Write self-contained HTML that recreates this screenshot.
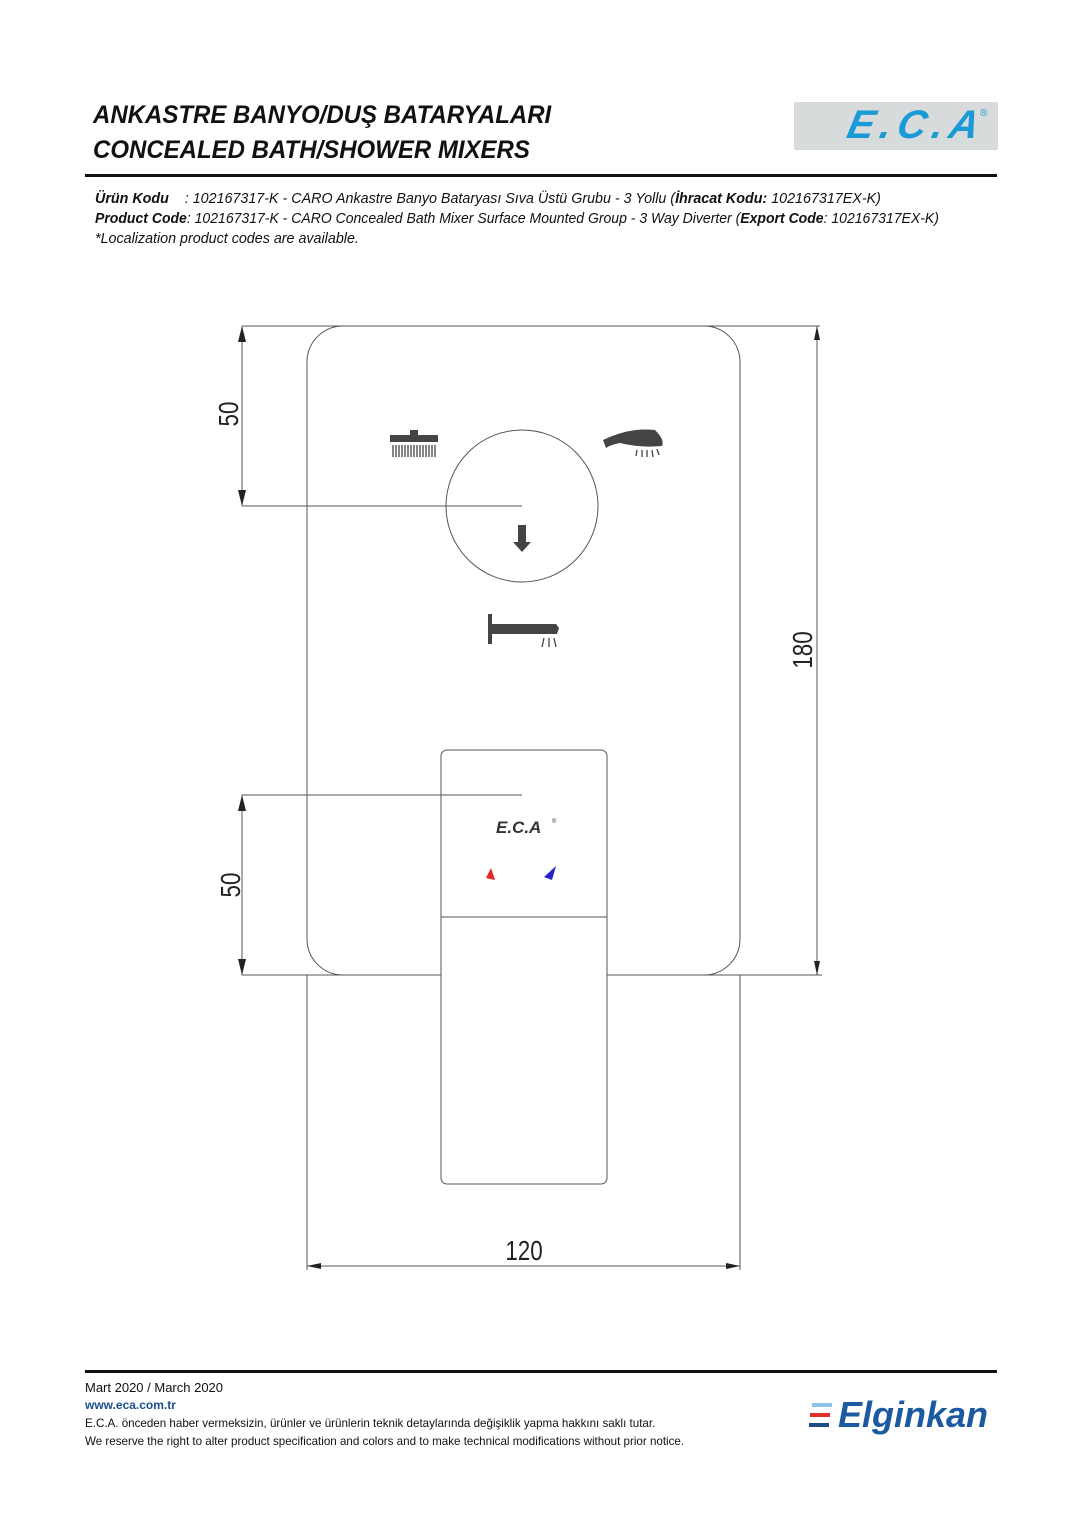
<!DOCTYPE html>
<html><head><meta charset="utf-8"><style>
body{margin:0;background:#fff;}
.wrap{position:relative;width:1080px;height:1527px;overflow:hidden;font-family:"Liberation Sans",sans-serif;color:#111;}
.t{position:absolute;white-space:nowrap;}
</style></head><body><div class="wrap">
<div class="t" style="left:93px;top:101px;font-size:25px;font-weight:bold;font-style:italic;transform:scaleX(0.96);transform-origin:left;">ANKASTRE BANYO/DUŞ BATARYALARI</div>
<div class="t" style="left:93px;top:136px;font-size:25px;font-weight:bold;font-style:italic;transform:scaleX(0.96);transform-origin:left;">CONCEALED BATH/SHOWER MIXERS</div>
<div style="position:absolute;left:794px;top:102px;width:204px;height:48px;background:#d8dbdc;"></div>
<div class="t" style="left:848px;top:103px;font-size:40px;font-weight:bold;font-style:italic;color:#1a9ad6;letter-spacing:6px;transform:skewX(-12deg);">E.C.A</div>
<div class="t" style="left:980px;top:108px;font-size:10px;color:#1a9ad6;">®</div>
<div style="position:absolute;left:85px;top:174px;width:912px;height:3px;background:#111;"></div>
<div class="t" style="left:95px;top:191px;font-size:14.3px;font-style:italic;"><b>Ürün Kodu</b>&nbsp;&nbsp;&nbsp;&nbsp;: 102167317-K - CARO Ankastre Banyo Bataryası Sıva Üstü Grubu - 3 Yollu (<b>İhracat Kodu:</b> 102167317EX-K)</div>
<div class="t" style="left:95px;top:211px;font-size:14.3px;font-style:italic;transform:scaleX(0.98);transform-origin:left;"><b>Product Code</b>: 102167317-K - CARO Concealed Bath Mixer Surface Mounted Group - 3 Way Diverter (<b>Export Code</b>: 102167317EX-K)</div>
<div class="t" style="left:95px;top:231px;font-size:14.3px;font-style:italic;">*Localization product codes are available.</div>

<svg style="position:absolute;left:0;top:0" width="1080" height="1527">
<g fill="none" stroke="#555" stroke-width="1">
<rect x="307" y="326" width="433" height="649" rx="36"/>
<circle cx="522" cy="506" r="76"/>
<rect x="441" y="750" width="166" height="434" rx="6" fill="#fff"/>
<line x1="441" y1="917" x2="607" y2="917"/>
<line x1="242" y1="326" x2="820" y2="326"/>
<line x1="242" y1="506" x2="522" y2="506"/>
<line x1="242" y1="795" x2="522" y2="795"/>
<line x1="242" y1="975" x2="441" y2="975"/>
<line x1="607" y1="975" x2="822" y2="975"/>
<line x1="242" y1="326" x2="242" y2="506"/>
<line x1="242" y1="795" x2="242" y2="975"/>
<line x1="817" y1="326" x2="817" y2="975"/>
<line x1="307" y1="975" x2="307" y2="1270"/>
<line x1="740" y1="975" x2="740" y2="1270"/>
<line x1="307" y1="1266" x2="740" y2="1266"/>
</g>
<g fill="#222">
<path d="M242 326l-4 16h8z"/><path d="M242 506l-4 -16h8z"/>
<path d="M242 795l-4 16h8z"/><path d="M242 975l-4 -16h8z"/>
<path d="M817 326l-3 14h6z"/><path d="M817 975l-3 -14h6z"/>
<path d="M307 1266l14 -3v6z"/><path d="M740 1266l-14 -3v6z"/>
</g>
<g fill="#444">
<rect x="410" y="430" width="8" height="5"/><rect x="390" y="435" width="48" height="7"/>
<g stroke="#444" stroke-width="1.3"><path d="M393 445v12M396 445v12M399 445v12M402 445v12M405 445v12M408 445v12M411 445v12M414 445v12M417 445v12M420 445v12M423 445v12M426 445v12M429 445v12M432 445v12M435 445v12"/></g>
<path d="M603 440 Q630 427 655 430 Q665 440 662 446 Q640 448 620 443 Q610 445 606 448z"/>
<g stroke="#444" stroke-width="1.3"><path d="M637 450l-1 6M642 450v7M647 450v7M652 450l1 7M657 449l2 6"/></g>
<rect x="518" y="525" width="8" height="18"/><path d="M513 542h18l-9 10z"/>
<rect x="488" y="614" width="4" height="30"/><path d="M491 624h65l3 4l-2 6h-66z"/>
<g stroke="#444" stroke-width="1.3"><path d="M544 638l-2 9M549 638v9M554 638l2 9"/></g>
<path d="M491 868l4 12l-9 -2z" fill="#e22"/><path d="M556 866l-4 14l-8-3z" fill="#22c"/>
</g>
<text x="496" y="833" font-family="Liberation Sans" font-size="17" font-weight="bold" font-style="italic" fill="#333">E.C.A</text>
<text x="552" y="823" font-family="Liberation Sans" font-size="6" fill="#333">®</text>
<g font-family="Liberation Sans" font-size="28" fill="#222">
<text transform="translate(238,414) rotate(-90) scale(0.8,1)" text-anchor="middle">50</text>
<text transform="translate(240,885) rotate(-90) scale(0.8,1)" text-anchor="middle">50</text>
<text transform="translate(812,650) rotate(-90) scale(0.8,1)" text-anchor="middle">180</text>
<text transform="translate(524,1260) scale(0.8,1)" text-anchor="middle">120</text>
</g>
</svg>

<div style="position:absolute;left:85px;top:1370px;width:912px;height:3px;background:#111;"></div>
<div class="t" style="left:85px;top:1380px;font-size:13px;">Mart 2020 / March 2020</div>
<div class="t" style="left:85px;top:1398px;font-size:12px;font-weight:bold;color:#1b4f8a;">www.eca.com.tr</div>
<div class="t" style="left:85px;top:1417px;font-size:11.6px;">E.C.A. önceden haber vermeksizin, ürünler ve ürünlerin teknik detaylarında değişiklik yapma hakkını saklı tutar.</div>
<div class="t" style="left:85px;top:1435px;font-size:11.6px;">We reserve the right to alter product specification and colors and to make technical modifications without prior notice.</div>
<div style="position:absolute;left:812px;top:1403px;width:20px;height:4px;background:#8cc3e8;"></div>
<div style="position:absolute;left:810px;top:1413px;width:20px;height:4px;background:#e0312a;"></div>
<div style="position:absolute;left:809px;top:1423px;width:20px;height:4px;background:#1b4f8a;"></div>
<div class="t" style="left:838px;top:1394px;font-size:36px;font-weight:bold;font-style:italic;color:#1b5aa0;">Elginkan</div>
</div></body></html>
